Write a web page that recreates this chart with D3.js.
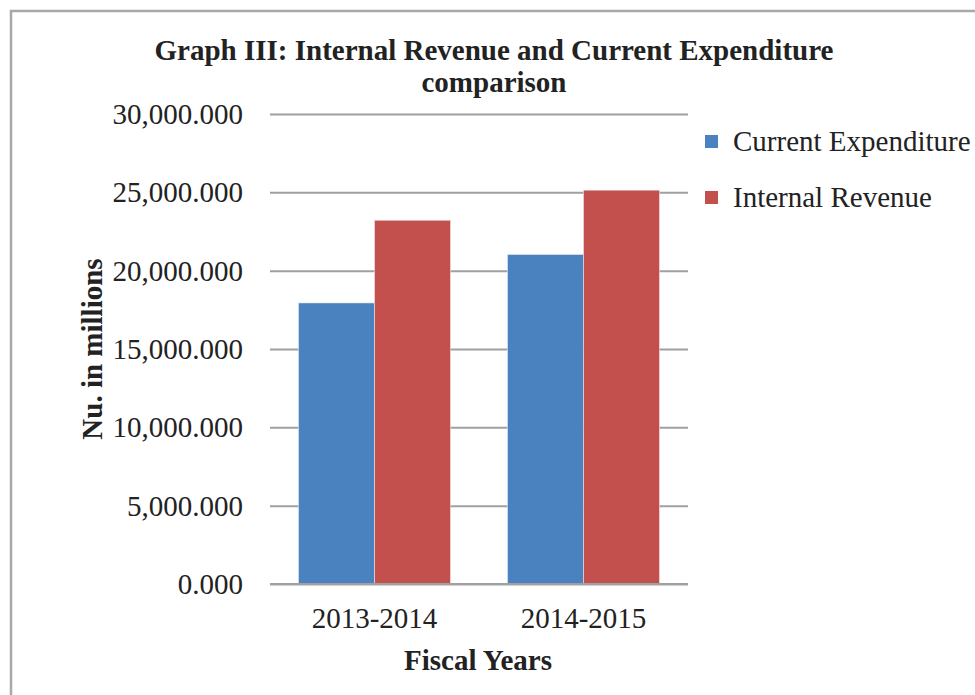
<!DOCTYPE html>
<html lang="en">
<head>
<meta charset="UTF-8">
<title>Graph III</title>
<style>
  body { margin: 0; background: #fff; }
  svg { display: block; font-family: "Liberation Serif", "Times New Roman", serif; }
  .grid line { stroke: #a0a0a0; stroke-width: 2; }
  .grid path { display: none; }
</style>
</head>
<body>
<div id="chart"></div>
<script src="https://d3js.org/d3.v7.min.js"></script>
<script>
// data
const years = ["2013-2014", "2014-2015"];
const seriesNames = ["Current Expenditure", "Internal Revenue"];
const expenditure = [17940, 21030];
const revenue = [23220, 25140];
const yTicks = [0, 5000, 10000, 15000, 20000, 25000, 30000];
const colors = ["#4a81bf", "#c4504e"];

const W = 975, H = 695;
const plot = {left: 270, right: 688, top: 114, bottom: 584};

const svg = d3.select("#chart").append("svg")
  .attr("width", W).attr("height", H);

// outer frame (cut off at right and bottom like the source)
svg.append("path")
  .attr("d", `M${W + 5},11 H11 V${H + 5}`)
  .attr("fill", "none").attr("stroke", "#a8a8a8").attr("stroke-width", 2.5);

const y = d3.scaleLinear().domain([0, 30000]).range([plot.bottom, plot.top]);
const x0 = d3.scaleBand().domain(years).range([plot.left, plot.right])
  .paddingInner(57 / 209).paddingOuter(28.5 / 209);
const x1 = d3.scaleBand().domain(seriesNames).range([0, x0.bandwidth()]);

// gridlines
svg.append("g").attr("class", "grid")
  .attr("transform", `translate(${plot.left},0)`)
  .call(d3.axisLeft(y).tickValues(yTicks).tickSize(-(plot.right - plot.left)).tickFormat(""));

// y tick labels
const fmt = d3.format(",.3f");
svg.append("g").selectAll("text").data(yTicks).join("text")
  .attr("x", 243).attr("y", d => y(d) + 10)
  .attr("text-anchor", "end").attr("font-size", 29).attr("fill", "#222")
  .text(d => fmt(d));

// bars
const rows = years.map((yr, i) => ({year: yr, vals: [expenditure[i], revenue[i]]}));
const groups = svg.append("g").selectAll("g").data(rows).join("g")
  .attr("transform", d => `translate(${x0(d.year)},0)`);
groups.selectAll("rect").data(d => d.vals.map((v, k) => ({name: seriesNames[k], v, k})))
  .join("rect")
  .attr("x", d => x1(d.name))
  .attr("y", d => y(d.v))
  .attr("width", x1.bandwidth())
  .attr("height", d => plot.bottom - y(d.v))
  .attr("fill", d => colors[d.k])
  .attr("stroke", "#e8e8e8").attr("stroke-width", 0.6);

// baseline
svg.append("line")
  .attr("x1", plot.left).attr("x2", plot.right)
  .attr("y1", y(0)).attr("y2", y(0))
  .attr("stroke", "#a0a0a0").attr("stroke-width", 2);

// x category labels
svg.append("g").selectAll("text").data(years).join("text")
  .attr("x", d => x0(d) + x0.bandwidth() / 2).attr("y", 628)
  .attr("text-anchor", "middle").attr("font-size", 29).attr("fill", "#222")
  .text(d => d);

// title
svg.append("text").attr("x", 494).attr("y", 60)
  .attr("text-anchor", "middle").attr("font-size", 29).attr("font-weight", "bold").attr("fill", "#222")
  .text("Graph III: Internal Revenue and Current Expenditure");
svg.append("text").attr("x", 494).attr("y", 92)
  .attr("text-anchor", "middle").attr("font-size", 29).attr("font-weight", "bold").attr("fill", "#222")
  .text("comparison");

// axis titles
svg.append("text").attr("x", 478).attr("y", 670)
  .attr("text-anchor", "middle").attr("font-size", 29).attr("font-weight", "bold").attr("fill", "#222")
  .text("Fiscal Years");
svg.append("text")
  .attr("transform", "translate(102,349) rotate(-90)")
  .attr("text-anchor", "middle").attr("font-size", 29).attr("font-weight", "bold").attr("fill", "#222")
  .text("Nu. in millions");

// legend
const legend = svg.append("g").selectAll("g").data(seriesNames).join("g")
  .attr("transform", (d, i) => `translate(705,${135 + i * 56})`);
legend.append("rect").attr("width", 13).attr("height", 13)
  .attr("fill", (d, i) => colors[i]);
legend.append("text").attr("x", 28).attr("y", 16)
  .attr("font-size", 29).attr("fill", "#222")
  .text(d => d);
</script>
</body>
</html>
